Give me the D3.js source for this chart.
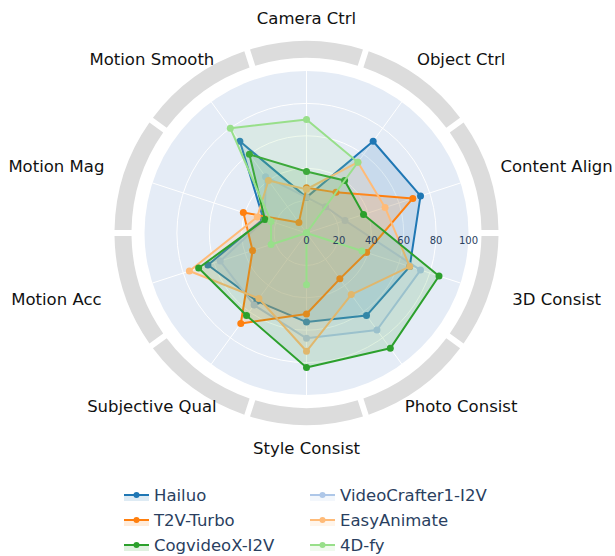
<!DOCTYPE html>
<html>
<head>
<meta charset="utf-8">
<script src="https://cdn.jsdelivr.net/npm/d3@7"></script>
<style>
  html, body { margin: 0; padding: 0; background: #fff; }
  svg { display: block; font-family: "DejaVu Sans", sans-serif; }
</style>
</head>
<body>
<svg id="chart" width="615" height="556"></svg>
<script>
// ---- data ----
const categories = ["Camera Ctrl", "Object Ctrl", "Content Align", "3D Consist", "Photo Consist",
                    "Style Consist", "Subjective Qual", "Motion Acc", "Motion Mag", "Motion Smooth"];
const radialTicks = [0, 20, 40, 60, 80, 100];
const gridTicks = [20, 40, 60, 80];

const seriesNames = ["Hailuo", "VideoCrafter1-I2V", "T2V-Turbo", "EasyAnimate", "CogvideoX-I2V", "4D-fy"];
const hailuo      = [22, 70, 74, 67, 63, 55, 52, 64, 28, 70];
const videoCrafter= [22, 20, 25, 74, 74, 65, 55, 56, 27, 43];
const t2vTurbo    = [28, 31, 69, 39, 35, 50, 69, 35, 41, 8];
const easyAnimate = [27, 54, 51, 67, 47, 73, 50, 76, 32, 40];
const cogvideo    = [38, 40, 37, 86, 88, 83, 63, 70, 27, 60];
const fourDfy     = [70, 54, 0, 36, 0, 32, 0, 23, 23, 80];
const seriesValues = [hailuo, videoCrafter, t2vTurbo, easyAnimate, cogvideo, fourDfy];
const seriesColors = ["#1f77b4", "#aec7e8", "#ff7f0e", "#ffbb78", "#2ca02c", "#98df8a"];

// ---- layout ----
const svg = d3.select("#chart");
const cx = 306.5, cy = 233, R = 162;
const g = svg.append("g").attr("transform", `translate(${cx},${cy})`);

const n = categories.length;
const angle = d3.scaleLinear().domain([0, n]).range([0, 2 * Math.PI]);
const r = d3.scaleLinear().domain([0, 100]).range([0, R]);

// outer gray ring segments
const ringArc = d3.arc().innerRadius(175).outerRadius(192).padAngle(6 / 260).padRadius(260);
g.append("g").selectAll("path").data(categories).join("path")
  .attr("d", (d, i) => ringArc({ startAngle: angle(i) - Math.PI / n, endAngle: angle(i) + Math.PI / n }))
  .attr("fill", "#dcdcdc");

// polar background
g.append("circle").attr("r", r(100)).attr("fill", "#e5ecf6");

// grid
g.append("g").selectAll("circle").data(gridTicks).join("circle")
  .attr("r", d => r(d)).attr("fill", "none").attr("stroke", "#fff").attr("stroke-width", 1);
g.append("g").selectAll("line").data(categories).join("line")
  .attr("x1", 0).attr("y1", 0)
  .attr("x2", (d, i) => r(100) * Math.sin(angle(i)))
  .attr("y2", (d, i) => -r(100) * Math.cos(angle(i)))
  .attr("stroke", "#fff").attr("stroke-width", 1);

// series
const radial = d3.lineRadial()
  .angle((d, i) => angle(i))
  .radius(d => r(d))
  .curve(d3.curveLinearClosed);

seriesValues.forEach((vals, s) => {
  const col = seriesColors[s];
  const sg = g.append("g");
  sg.append("path").attr("d", radial(vals))
    .attr("fill", col).attr("fill-opacity", 0.15)
    .attr("stroke", col).attr("stroke-width", 2).attr("stroke-linejoin", "round");
  sg.selectAll("circle").data(vals).join("circle")
    .attr("cx", (d, i) => r(d) * Math.sin(angle(i)))
    .attr("cy", (d, i) => -r(d) * Math.cos(angle(i)))
    .attr("r", 3.5).attr("fill", col);
});

// radial tick labels (above traces)
g.append("g").selectAll("text").data(radialTicks).join("text")
  .attr("x", d => r(d)).attr("y", 7.5)
  .attr("text-anchor", "middle").attr("dominant-baseline", "central")
  .attr("font-size", 10).attr("fill", "#2a3f5f")
  .text(d => d);

// category labels
g.append("g").selectAll("text").data(categories).join("text")
  .attr("x", (d, i) => 263 * Math.sin(angle(i)))
  .attr("y", (d, i) => -215 * Math.cos(angle(i)))
  .attr("text-anchor", "middle").attr("dominant-baseline", "central")
  .attr("font-size", 16.5).attr("fill", "#111")
  .text(d => d);

// legend (two columns, three rows)
const legend = svg.append("g");
const legendOrder = [0, 2, 4, 1, 3, 5];
legendOrder.forEach((s, k) => {
  const col = Math.floor(k / 3), row = k % 3;
  const x0 = col === 0 ? 124 : 310, y0 = 495 + row * 25;
  const item = legend.append("g").attr("transform", `translate(${x0},${y0})`);
  item.append("rect").attr("x", 0).attr("y", 0).attr("width", 25).attr("height", 6)
    .attr("fill", seriesColors[s]).attr("fill-opacity", 0.15);
  item.append("line").attr("x1", 0).attr("x2", 25).attr("y1", 0).attr("y2", 0)
    .attr("stroke", seriesColors[s]).attr("stroke-width", 2);
  item.append("circle").attr("cx", 12.5).attr("cy", 0).attr("r", 3).attr("fill", seriesColors[s]);
  item.append("text").attr("x", 30).attr("y", 0.5)
    .attr("dominant-baseline", "central").attr("font-size", 16.5).attr("fill", "#2a3f5f")
    .text(seriesNames[s]);
});
</script>
</body>
</html>
